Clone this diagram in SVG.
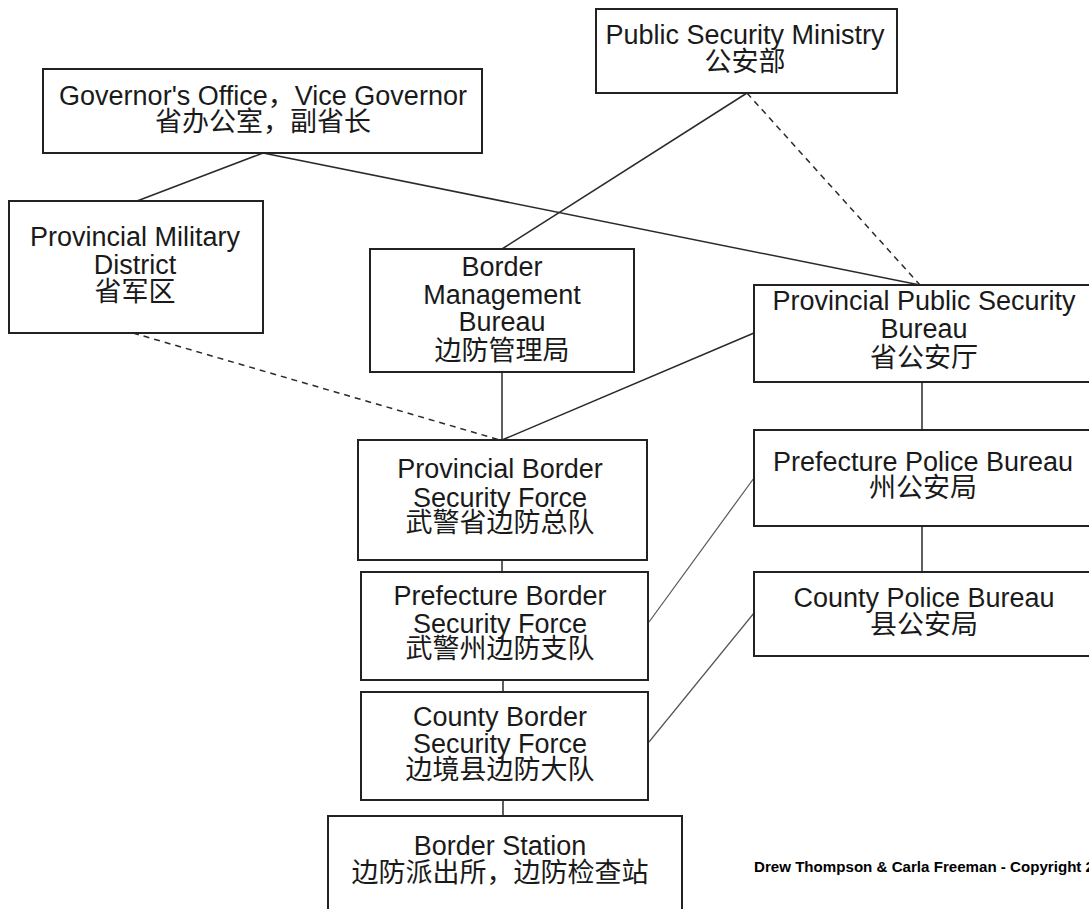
<svg xmlns="http://www.w3.org/2000/svg" width="1089" height="909" viewBox="0 0 1089 909">
<style>
.box{fill:#fff;stroke:#222;stroke-width:2}
.t{font-family:"Liberation Sans","Noto Sans CJK SC",sans-serif;font-size:27px;fill:#1a1a1a;text-anchor:middle}
.c{stroke:#2a2a2a;stroke-width:1.5;fill:none}
.cl{stroke:#555;stroke-width:1.2;fill:none}
.d{stroke:#2a2a2a;stroke-width:1.5;fill:none;stroke-dasharray:6 5}
.cr{font-family:"Liberation Sans",sans-serif;font-size:15px;font-weight:bold;fill:#000}
</style>
<rect width="1089" height="909" fill="#fff"/>
<g id="connectors">
<line class="c" x1="263" y1="153" x2="137" y2="201"/>
<line class="c" x1="263" y1="153" x2="920" y2="285"/>
<line class="c" x1="747" y1="93" x2="502" y2="249"/>
<line class="d" x1="747" y1="93" x2="920" y2="285"/>
<line class="d" x1="133" y1="333" x2="500" y2="440"/>
<line class="c" x1="502" y1="372" x2="502" y2="440"/>
<line class="c" x1="754" y1="333" x2="502" y2="440"/>
<line class="c" x1="922" y1="382" x2="922" y2="430"/>
<line class="c" x1="922" y1="526" x2="922" y2="572"/>
<line class="c" x1="502" y1="560" x2="502" y2="572"/>
<line class="c" x1="503" y1="680" x2="503" y2="692"/>
<line class="c" x1="503" y1="800" x2="503" y2="816"/>
<line class="cl" x1="754" y1="478" x2="649" y2="622"/>
<line class="cl" x1="754" y1="613" x2="649" y2="742"/>
</g>
<g id="governor">
<rect class="box" x="43" y="69" width="439" height="84"/>
<text class="t" x="263" y="105">Governor's Office，Vice Governor</text>
<text class="t" x="263" y="131">省办公室，副省长</text>
</g>
<g id="psm">
<rect class="box" x="596" y="9" width="301" height="84"/>
<text class="t" x="745" y="44">Public Security Ministry</text>
<text class="t" x="745" y="71">公安部</text>
</g>
<g id="pmd">
<rect class="box" x="9" y="201" width="254" height="132"/>
<text class="t" x="135" y="246">Provincial Military</text>
<text class="t" x="135" y="274">District</text>
<text class="t" x="135" y="301">省军区</text>
</g>
<g id="bmb">
<rect class="box" x="370" y="249" width="264" height="123"/>
<text class="t" x="502" y="276">Border</text>
<text class="t" x="502" y="304">Management</text>
<text class="t" x="502" y="331">Bureau</text>
<text class="t" x="502" y="360">边防管理局</text>
</g>
<g id="ppsb">
<rect class="box" x="754" y="285" width="342" height="97"/>
<text class="t" x="924" y="310">Provincial Public Security</text>
<text class="t" x="924" y="338">Bureau</text>
<text class="t" x="924" y="367">省公安厅</text>
</g>
<g id="pbsf">
<rect class="box" x="358" y="440" width="289" height="120"/>
<text class="t" x="500" y="478">Provincial Border</text>
<text class="t" x="500" y="507">Security Force</text>
<text class="t" x="500" y="532">武警省边防总队</text>
</g>
<g id="prefbsf">
<rect class="box" x="361" y="572" width="287" height="108"/>
<text class="t" x="500" y="605">Prefecture Border</text>
<text class="t" x="500" y="633">Security Force</text>
<text class="t" x="500" y="658">武警州边防支队</text>
</g>
<g id="cbsf">
<rect class="box" x="361" y="692" width="287" height="108"/>
<text class="t" x="500" y="726">County Border</text>
<text class="t" x="500" y="753">Security Force</text>
<text class="t" x="500" y="779">边境县边防大队</text>
</g>
<g id="station">
<rect class="box" x="328" y="816" width="354" height="110"/>
<text class="t" x="500" y="855">Border Station</text>
<text class="t" x="500" y="882">边防派出所，边防检查站</text>
</g>
<g id="ppb">
<rect class="box" x="754" y="430" width="342" height="96"/>
<text class="t" x="923" y="471">Prefecture Police Bureau</text>
<text class="t" x="923" y="497">州公安局</text>
</g>
<g id="cpb">
<rect class="box" x="754" y="572" width="342" height="84"/>
<text class="t" x="924" y="607">County Police Bureau</text>
<text class="t" x="924" y="634">县公安局</text>
</g>
<text class="cr" x="754" y="872" textLength="340" lengthAdjust="spacingAndGlyphs">Drew Thompson &amp; Carla Freeman - Copyright 2</text>
</svg>
